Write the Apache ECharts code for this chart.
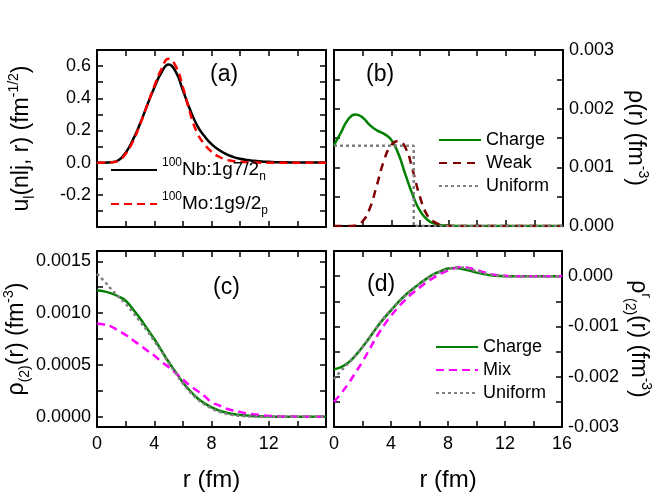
<!DOCTYPE html>
<html>
<head>
<meta charset="utf-8">
<script src="https://cdn.jsdelivr.net/npm/echarts@6/dist/echarts.min.js"></script>
<style>
  html, body { margin: 0; padding: 0; background: #fff; }
  #main { width: 654px; height: 502px; }
</style>
</head>
<body>
<div id="main"></div>
<script>
// radial grid (fm)
var R = [0, 0.5, 1, 1.5, 2, 2.5, 3, 3.5, 4, 4.5, 5, 5.5, 6, 6.5, 7, 7.5, 8, 8.5, 9, 9.5, 10, 10.5, 11, 11.5, 12, 12.5, 13, 13.5, 14, 14.5, 15, 15.5, 16]

// (a) single particle wave functions
var nbWave = [0, 0, 0.003, 0.015, 0.062, 0.14, 0.24, 0.355, 0.465, 0.56, 0.61, 0.565, 0.45, 0.33, 0.23, 0.165, 0.115, 0.08, 0.054, 0.036, 0.024, 0.016, 0.011, 0.007, 0.005, 0.003, 0.002, 0.0015, 0.001, 0.0007, 0.0005, 0.0003, 0.0002]
var moWave = [0, 0, 0.002, 0.013, 0.055, 0.13, 0.235, 0.355, 0.475, 0.58, 0.645, 0.6, 0.47, 0.31, 0.185, 0.115, 0.068, 0.038, 0.02, 0.01, 0.005, 0.002, 0.001, 0, 0, 0, 0, 0, 0, 0, 0, 0, 0]

// (b) densities
var chargeRho = [0.00138, 0.0016, 0.00182, 0.0019, 0.00185, 0.00172, 0.00163, 0.00157, 0.00147, 0.00123, 0.00087, 0.00053, 0.00026, 0.00011, 0.00004, 0.000015, 0.000006, 0.000002, 0, 0, 0, 0, 0, 0, 0, 0, 0, 0, 0, 0, 0, 0, 0]
var weakRho = [0, 0, 0, 0.00001, 0.00008, 0.0003, 0.0007, 0.00112, 0.00138, 0.00145, 0.00133, 0.00095, 0.0005, 0.00019, 0.00007, 0.00002, 0.000005, 0, 0, 0, 0, 0, 0, 0, 0, 0, 0, 0, 0, 0, 0, 0, 0]
var uniformR = [0, 5.57, 5.57, 16]
var uniformRho = [0.00137, 0.00137, 0, 0]

// (c) rho_(2)
var chargeRho2 = [0.00122, 0.00121, 0.00119, 0.00116, 0.00112, 0.00104, 0.00095, 0.00085, 0.00075, 0.00064, 0.00053, 0.00043, 0.00033, 0.00025, 0.00018, 0.00013, 0.00009, 0.00006, 0.00004, 0.000025, 0.000016, 0.00001, 0.000005, 0.000003, 0.000001, 0, 0, 0, 0, 0, 0, 0, 0]
var mixRho2 = [0.0009, 0.00089, 0.00087, 0.00083, 0.00079, 0.00074, 0.00069, 0.00064, 0.00059, 0.00053, 0.00048, 0.00042, 0.00036, 0.0003, 0.00025, 0.0002, 0.00014, 0.00011, 0.00008, 0.00006, 0.000045, 0.00003, 0.000022, 0.000014, 0.000008, 0.000004, 0.000002, 0.000001, 0, 0, 0, 0, 0]
var uniformRho2 = [0.00138, 0.00131, 0.00123, 0.00116, 0.00109, 0.00101, 0.00092, 0.00083, 0.00073, 0.00063, 0.00052, 0.00042, 0.00032, 0.00024, 0.00017, 0.00012, 0.00008, 0.00005, 0.00003, 0.000015, 0.000007, 0.000003, 0.000001, 0, 0, 0, 0, 0, 0, 0, 0, 0, 0]

// (d) rho^r_(2)
var chargeRho2r = [-0.00185, -0.00181, -0.00172, -0.00158, -0.00141, -0.00122, -0.00102, -0.00084, -0.00068, -0.00052, -0.00038, -0.00026, -0.00015, -0.00005, 0.00004, 0.0001, 0.00015, 0.00016, 0.00014, 0.00011, 0.00007, 0.00004, 0.00002, 0.000005, 0, -0.000003, 0, 0, 0, 0, 0, 0, 0]
var mixRho2r = [-0.0025, -0.00233, -0.00214, -0.00192, -0.0017, -0.00145, -0.0012, -0.00098, -0.00079, -0.00062, -0.00047, -0.00034, -0.00023, -0.00012, -0.00003, 0.00005, 0.00011, 0.00016, 0.00018, 0.00016, 0.00012, 0.00008, 0.00004, 0.00002, 0.00001, 0, 0, 0, 0, 0, 0, 0, 0]
var uniformRho2r = [-0.00205, -0.00188, -0.00173, -0.00158, -0.00141, -0.00122, -0.00102, -0.00083, -0.00067, -0.00052, -0.00039, -0.00027, -0.00016, -0.00006, 0.00003, 0.00009, 0.00014, 0.00017, 0.00017, 0.00014, 0.0001, 0.00006, 0.00003, 0.00001, 0, 0, 0, 0, 0, 0, 0, 0, 0]

// ticks and tick labels
var xTicks = [0, 2, 4, 6, 8, 10, 12, 14, 16]
var xLabelsC = [0, 4, 8, 12]
var xLabelsD = [0, 4, 8, 12, 16]
var yTicksA = [-0.4, -0.3, -0.2, -0.1, 0, 0.1, 0.2, 0.3, 0.4, 0.5, 0.6, 0.7]
var yLabelsA = [-0.2, 0, 0.2, 0.4, 0.6]
var yTicksB = [0, 0.0005, 0.001, 0.0015, 0.002, 0.0025, 0.003]
var yLabelsB = [0, 0.001, 0.002, 0.003]
var yTicksC = [0, 0.00025, 0.0005, 0.00075, 0.001, 0.00125, 0.0015]
var yLabelsC = [0, 0.0005, 0.001, 0.0015]
var yTicksD = [-0.003, -0.0025, -0.002, -0.0015, -0.001, -0.0005, 0, 0.0005]
var yLabelsD = [-0.003, -0.002, -0.001, 0]

var FONT = '"Liberation Sans", Arial, sans-serif'

function pair (xs, ys) {
  return xs.map(function (x, i) { return [x, ys[i]] })
}

var nameRich = {
  i: { fontSize: 23, lineHeight: 30, color: '#000', fontFamily: FONT },
  sup: { fontSize: 14, lineHeight: 14, verticalAlign: 'top', color: '#000', fontFamily: FONT },
  sub: { fontSize: 14, lineHeight: 14, verticalAlign: 'bottom', color: '#000', fontFamily: FONT }
}

var panels = [
  {
    grid: { left: 97, top: 50, width: 229, height: 177 },
    yMin: -0.4, yMax: 0.7, yTicks: yTicksA, yLabels: yLabelsA, digits: 1, side: 'left',
    yName: '{i|u}{sub|l}{i|(nlj, r) (fm}{sup|-1/2}{i|)}', nameGap: 60, xLabels: null
  },
  {
    grid: { left: 334, top: 50, width: 229, height: 176 },
    yMin: 0, yMax: 0.003, yTicks: yTicksB, yLabels: yLabelsB, digits: 3, side: 'right',
    yName: '{i|ρ(r) (fm}{sup|-3}{i|)}', nameGap: 57, xLabels: null
  },
  {
    grid: { left: 97, top: 251, width: 229, height: 176 },
    yMin: -0.0001, yMax: 0.0016, yTicks: yTicksC, yLabels: yLabelsC, digits: 4, side: 'left',
    yName: '{i|ρ}{sub|(2)}{i|(r) (fm}{sup|-3}{i|)}', nameGap: 60, xLabels: xLabelsC
  },
  {
    grid: { left: 334, top: 251, width: 229, height: 176 },
    yMin: -0.003, yMax: 0.0005, yTicks: yTicksD, yLabels: yLabelsD, digits: 3, side: 'right',
    yName: '{i|ρ}{sup|r}{sub|(2)}{i|(r) (fm}{sup|-3}{i|)}', nameGap: 57, xLabels: xLabelsD
  }
]

var grids = []
var xAxes = []
var yAxes = []
var lineAx = { show: true, onZero: false, lineStyle: { color: '#000', width: 2 } }

panels.forEach(function (p, k) {
  grids.push(p.grid)
  ;['bottom', 'top'].forEach(function (pos) {
    var labelled = pos === 'bottom' && p.xLabels
    xAxes.push({
      type: 'value', gridIndex: k, position: pos, min: 0, max: 16,
      axisLine: lineAx,
      axisTick: { show: true, inside: true, length: 6, lineStyle: { color: '#000', width: 1.5 }, customValues: xTicks },
      axisLabel: labelled
        ? { show: true, customValues: p.xLabels, fontSize: 18, color: '#000', fontFamily: FONT, margin: 8 }
        : { show: false },
      splitLine: { show: false },
      name: labelled ? 'r (fm)' : '',
      nameLocation: 'middle',
      nameGap: 41,
      nameTextStyle: { fontSize: 24, color: '#000', fontFamily: FONT }
    })
  })
  ;['left', 'right'].forEach(function (pos) {
    var labelled = pos === p.side
    yAxes.push({
      type: 'value', gridIndex: k, position: pos, min: p.yMin, max: p.yMax,
      axisLine: lineAx,
      axisTick: { show: true, inside: true, length: 6, lineStyle: { color: '#000', width: 1.5 }, customValues: p.yTicks },
      axisLabel: labelled
        ? {
            show: true, customValues: p.yLabels, fontSize: 18, color: '#000', fontFamily: FONT, margin: 6,
            formatter: function (v) { return Number(v).toFixed(p.digits) }
          }
        : { show: false },
      splitLine: { show: false },
      name: labelled ? p.yName : '',
      nameLocation: 'middle',
      nameGap: p.nameGap,
      nameRotate: pos === 'left' ? 90 : -90,
      nameTextStyle: { rich: nameRich }
    })
  })
})

function line (name, k, data, color, type) {
  return {
    name: name, type: 'line', xAxisIndex: 2 * k,
    yAxisIndex: 2 * k + (panels[k].side === 'left' ? 0 : 1),
    data: data, symbol: 'none', smooth: 0.5,
    lineStyle: { color: color, width: 2.5, type: type },
    itemStyle: { color: color },
    silent: true, animation: false
  }
}

var series = [
  line('Nb', 0, pair(R, nbWave), '#000000', 'solid'),
  line('Mo', 0, pair(R, moWave), '#ff0000', [8, 5]),
  line('Charge_b', 1, pair(R, chargeRho), '#008000', 'solid'),
  line('Weak', 1, pair(R, weakRho), '#800000', [8, 6]),
  line('Uniform_b', 1, pair(uniformR, uniformRho), '#808080', [3, 3]),
  line('Charge_c', 2, pair(R, chargeRho2), '#008000', 'solid'),
  line('Mix_c', 2, pair(R, mixRho2), '#ff00ff', [8, 5]),
  line('Uniform_c', 2, pair(R, uniformRho2), '#808080', [3, 3]),
  line('Charge_d', 3, pair(R, chargeRho2r), '#008000', 'solid'),
  line('Mix', 3, pair(R, mixRho2r), '#ff00ff', [8, 5]),
  line('Uniform_d', 3, pair(R, uniformRho2r), '#808080', [3, 3])
]
series[4].smooth = false

var legendRich = {
  t: { fontSize: 19, lineHeight: 26, color: '#000', fontFamily: FONT },
  sup: { fontSize: 12, lineHeight: 12, verticalAlign: 'top', color: '#000', fontFamily: FONT },
  sub: { fontSize: 12, lineHeight: 12, verticalAlign: 'bottom', color: '#000', fontFamily: FONT }
}
var legendLabels = {
  Nb: '{sup|100}{t|Nb:1g7/2}{sub|n}',
  Mo: '{sup|100}{t|Mo:1g9/2}{sub|p}'
}

function plainLegend (left, top, names) {
  return {
    left: left, top: top, orient: 'vertical', data: names,
    itemWidth: 42, itemHeight: 14, itemGap: 5, selectedMode: false,
    itemStyle: { opacity: 0 },
    textStyle: { fontSize: 18, lineHeight: 18, color: '#000', fontFamily: FONT },
    formatter: function (n) { return n.replace(/_.*/, '') }
  }
}

var option = {
  animation: false,
  textStyle: { fontFamily: FONT },
  grid: grids,
  xAxis: xAxes,
  yAxis: yAxes,
  series: series,
  legend: [
    {
      left: 105, top: 152, orient: 'vertical', data: ['Nb', 'Mo'],
      itemWidth: 46, itemHeight: 14, itemGap: 8, selectedMode: false,
      itemStyle: { opacity: 0 },
      formatter: function (n) { return legendLabels[n] },
      textStyle: { rich: legendRich }
    },
    plainLegend(433, 126, ['Charge_b', 'Weak', 'Uniform_b']),
    plainLegend(430, 333, ['Charge_d', 'Mix', 'Uniform_d'])
  ],
  graphic: [
    { type: 'text', left: 210, top: 63, style: { text: '(a)', font: '23px ' + FONT, fill: '#000' } },
    { type: 'text', left: 366, top: 63, style: { text: '(b)', font: '23px ' + FONT, fill: '#000' } },
    { type: 'text', left: 213, top: 276, style: { text: '(c)', font: '23px ' + FONT, fill: '#000' } },
    { type: 'text', left: 367, top: 273, style: { text: '(d)', font: '23px ' + FONT, fill: '#000' } }
  ]
}

var chart = echarts.init(document.getElementById('main'), null, { renderer: 'canvas' })
chart.setOption(option)
</script>
</body>
</html>
